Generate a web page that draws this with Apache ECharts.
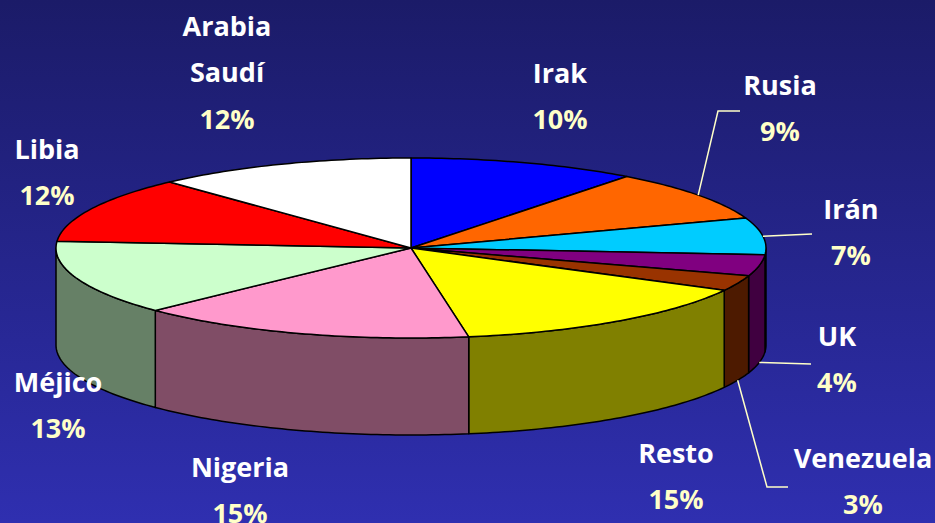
<!DOCTYPE html>
<html>
<head>
<meta charset="utf-8">
<script src="https://cdn.jsdelivr.net/npm/echarts@6/dist/echarts.min.js"></script>
<style>
html,body{margin:0;padding:0;background:#23238a;}
#chart{width:935px;height:523px;}
</style>
</head>
<body>
<div id="chart"></div>
<script>
const names = ['Irak', 'Rusia', 'Irán', 'UK', 'Venezuela', 'Resto', 'Nigeria', 'Méjico', 'Libia', 'Arabia Saudí'];
const values = [10.4, 9.2, 6.6, 3.8, 2.8, 14.6, 15.4, 13.4, 11.9, 11.9];
const topColors = ['#0000FF', '#FF6600', '#00CCFF', '#800080', '#993300', '#FFFF00', '#FF99CC', '#CCFFCC', '#FF0000', '#FFFFFF'];
const sideColors = ['#000080', '#803300', '#006680', '#400040', '#4D1A00', '#808000', '#804D66', '#668066', '#800000', '#808080'];

// ---- layout (not data) ----
const geo = { cx: 411, cy: 248, rx: 355, ry: 90, depth: 97 };
// label line centres: [x, firstLineY]
const labelPos = [
  [560, 72], [780, 84], [851, 208], [837, 335], [863, 457],
  [676, 452], [240, 466], [58, 381], [47, 148], [227, 25]
];
// leader: bend/end points after the start point on the pie edge; 'bottom' flag if start on bottom rim
const leaders = [
  null,
  { pts: [[718, 111], [740, 111]], bottom: false },
  { pts: [[812, 234]], bottom: false },
  { pts: [[811, 364]], bottom: true },
  { pts: [[767, 487], [788, 487]], bottom: true },
  null, null, null, null, null
];

const total = values.reduce((a, b) => a + b, 0);
const cum = [];
values.reduce((acc, v, i) => { cum[i] = acc; return acc + v; }, 0);

const FONT = '"Open Sans", "DejaVu Sans", sans-serif';
const LINE_H = 46.5;

function pt(theta, dy) {
  return [geo.cx + geo.rx * Math.sin(theta), geo.cy - geo.ry * Math.cos(theta) + (dy || 0)];
}
function arc(a0, a1, dy) {
  const pts = [];
  const n = Math.max(2, Math.ceil(Math.abs(a1 - a0) / (Math.PI / 180)));
  for (let k = 0; k <= n; k++) pts.push(pt(a0 + (a1 - a0) * k / n, dy));
  return pts;
}

function renderItem(params, api) {
  const i = params.dataIndex;
  const v = api.value(0);
  const a0 = cum[i] / total * Math.PI * 2;
  const a1 = a0 + v / total * Math.PI * 2;
  const children = [];
  // side wall (front half only)
  const s = Math.max(a0, Math.PI / 2), e = Math.min(a1, Math.PI * 1.5);
  if (s < e) {
    const pts = arc(s, e, 0).concat(arc(e, s, geo.depth));
    children.push({
      type: 'polygon', z2: 1,
      shape: { points: pts },
      style: { fill: sideColors[i], stroke: '#000', lineWidth: 1.5, lineJoin: 'round' }
    });
  }
  // top face
  const topPts = [[geo.cx, geo.cy]].concat(arc(a0, a1, 0));
  children.push({
    type: 'polygon', z2: 2,
    shape: { points: topPts },
    style: { fill: topColors[i], stroke: '#000', lineWidth: 1.5, lineJoin: 'round' }
  });
  // leader line
  const ld = leaders[i];
  if (ld) {
    const mid = (a0 + a1) / 2;
    const start = pt(mid, ld.bottom ? geo.depth : 0);
    children.push({
      type: 'polyline', z2: 3,
      shape: { points: [start].concat(ld.pts) },
      style: { stroke: '#FFFFC8', lineWidth: 1.5, fill: null }
    });
  }
  // labels
  const lines = names[i].split(' ');
  const pct = Math.round(v / total * 100) + '%';
  const [lx, ly] = labelPos[i];
  lines.forEach((t, k) => {
    children.push({
      type: 'text', z2: 4,
      style: {
        text: t, x: lx, y: ly + k * LINE_H,
        align: 'center', verticalAlign: 'middle',
        fill: '#FFFFFF', fontSize: 27, fontWeight: 'bold', fontFamily: FONT
      }
    });
  });
  children.push({
    type: 'text', z2: 4,
    style: {
      text: pct, x: lx, y: ly + lines.length * LINE_H,
      align: 'center', verticalAlign: 'middle',
      fill: '#FFFFC8', fontSize: 27, fontWeight: 'bold', fontFamily: FONT
    }
  });
  return { type: 'group', children: children };
}

const chart = echarts.init(document.getElementById('chart'), null, { renderer: 'svg', width: 935, height: 523 });
chart.setOption({
  animation: false,
  backgroundColor: {
    type: 'linear', x: 0, y: 0, x2: 0, y2: 1,
    colorStops: [{ offset: 0, color: '#1B1B68' }, { offset: 1, color: '#2F2FB0' }]
  },
  series: [{
    type: 'custom',
    coordinateSystem: 'none',
    renderItem: renderItem,
    data: values.map((v, i) => ({ name: names[i], value: [v] }))
  }]
});
</script>
</body>
</html>
